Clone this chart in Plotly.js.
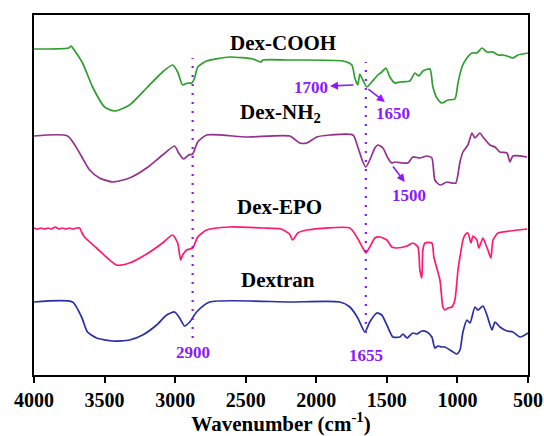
<!DOCTYPE html>
<html>
<head>
<meta charset="utf-8">
<script src="https://cdn.plot.ly/plotly-3.0.1.min.js"></script>
<style>html,body{margin:0;padding:0;background:#fff;}#chart{width:544px;height:436px;}</style>
</head>
<body>
<div id="chart"></div>
<script>
// Wavenumbers (cm-1) and offset transmittance (a.u.)
const cooh_x = [4000,3755,3736,3720,3656,3585,3500,3429,3323,3202,3089,3018,2982,2947,2911,2883,2862,2840,2777,2614,2450,2390,2380,2188,1812,1748,1727,1706,1692,1670,1642,1607,1564,1536,1507,1479,1443,1408,1337,1301,1273,1245,1195,1174,1145,1110,1067,1018,996,968,933,897,862,826,791,748,713,677,628,607,571,500];
const cooh_y = [326,327,329,326,312,288,268,264,270,287,303,310,303,290,292,292,297,308,314,318,316,313,315,315,314,310,297,290,301,295,288,293,300,303,307,298,292,293,294,302,299,304,306,288,277,272,275,276,292,308,317,322,322,327,323,323,320,320,318,317,320,322];

const nh2_x = [4000,3762,3677,3606,3536,3443,3323,3202,3089,3004,2975,2940,2904,2876,2840,2777,2493,2188,2117,2067,1996,1904,1740,1706,1670,1649,1621,1585,1564,1528,1493,1465,1443,1386,1351,1316,1266,1216,1181,1160,1124,1075,1039,1011,982,961,926,897,876,841,819,770,734,699,649,628,607,507];
const nh2_y = [239,239,222,205,197,193,197,207,220,229,222,216,220,221,233,240,238,239,232,232,238,240,240,228,213,208,215,227,230,227,217,212,213,212,212,218,217,219,217,195,190,193,192,192,213,223,230,242,237,242,238,230,228,223,222,213,219,218];

const epo_x = [4000,3975,3950,3925,3900,3875,3850,3825,3800,3775,3750,3725,3700,3677,3660,3642,3557,3415,3323,3202,3089,3018,2982,2961,2947,2918,2876,2840,2777,2614,2380,2250,2190,2167,2131,2067,1762,1713,1670,1649,1621,1585,1550,1500,1465,1429,1358,1316,1280,1266,1252,1245,1230,1181,1167,1124,1103,1089,1067,1039,1018,996,982,961,947,926,904,890,862,848,819,798,784,763,748,713,628,507];
const epo_y = [147,146,147,146,147,146,148,146,147,146,147,146,147,147,142,138,127,110,112,121,132,140,132,115,120,125,127,138,145,148,147,146,141,135,142,145,147,138,127,122,128,137,138,135,128,127,129,132,128,105,97,125,132,132,118,95,68,65,67,68,75,105,118,135,140,142,132,139,135,127,137,130,125,117,135,142,144,146];

const dex_x = [4000,3727,3663,3621,3557,3443,3323,3230,3131,3060,3004,2968,2933,2897,2848,2755,2188,1833,1762,1706,1656,1621,1571,1536,1500,1457,1408,1386,1358,1316,1287,1252,1216,1181,1160,1138,1110,1089,1053,1004,982,961,933,911,876,855,819,791,755,734,699,649,607,557,500];
const dex_y = [73,73,58,43,37,34,35,40,50,60,63,57,49,53,63,73,73,73,68,57,43,53,62,60,50,38,38,41,37,42,41,44,43,38,27,29,28,28,25,21,25,43,55,52,68,65,69,60,45,53,48,44,43,38,42];

const xTicks = [4000,3500,3000,2500,2000,1500,1000,500];
const markerLines = [2876, 1649];
const markerLabels = ['2900', '1655'];

const colors = {cooh:'#2E9E2E', nh2:'#93308F', epo:'#FF1A6E', dex:'#2B2FA6', mark:'#8B1AFF'};
const lw = 1.7;
function tr(x,y,c){return {x:x,y:y,type:'scatter',mode:'lines',line:{color:c,width:lw,shape:'spline',smoothing:0.6},hoverinfo:'skip',showlegend:false};}
const data = [tr(cooh_x,cooh_y,colors.cooh), tr(nh2_x,nh2_y,colors.nh2), tr(epo_x,epo_y,colors.epo), tr(dex_x,dex_y,colors.dex)];

const serif = "'Liberation Serif', 'Times New Roman', Times, serif";
const nameFont = {family:serif, size:21, color:'#000', weight:'bold'};
const markFont = {family:serif, size:17, color:colors.mark, weight:'bold'};

const annotations = [
  {x:2238,y:332,text:'<b>Dex-COOH</b>',font:nameFont},
  {x:2252,y:262,text:'<b>Dex-NH<sub>2</sub></b>',font:nameFont},
  {x:2259,y:168,text:'<b>Dex-EPO</b>',font:nameFont},
  {x:2273,y:95,text:'<b>Dextran</b>',font:nameFont},
  {x:2039,y:288,text:'<b>1700</b>',font:markFont},
  {x:1458,y:262,text:'<b>1650</b>',font:markFont},
  {x:1344,y:180,text:'<b>1500</b>',font:markFont},
  {x:markerLines[0],y:23,text:'<b>'+markerLabels[0]+'</b>',font:markFont},
  {x:markerLines[1],y:20,text:'<b>'+markerLabels[1]+'</b>',font:markFont},
].map(a=>Object.assign({xref:'x',yref:'y',showarrow:false,xanchor:'center',yanchor:'middle'},a));

const arrows = [
  {x:1903,y:289,ax:1727,ay:290},
  {x:1514,y:273,ax:1642,ay:287},
  {x:1373,y:193,ax:1465,ay:210},
].map(a=>Object.assign({xref:'x',yref:'y',axref:'x',ayref:'y',text:'',showarrow:true,arrowhead:2,arrowsize:1,arrowwidth:1.6,arrowcolor:colors.mark,standoff:0,startstandoff:0},a));

const shapes = [
  {type:'line',xref:'x',yref:'y',x0:markerLines[0],x1:markerLines[0],y0:37,y1:317,line:{color:colors.mark,width:2.2,dash:'2px,7px'}},
  {type:'line',xref:'x',yref:'y',x0:markerLines[1],x1:markerLines[1],y0:42,y1:313,line:{color:colors.mark,width:2.2,dash:'2px,7px'}},
];

const layout = {
  width:544,height:436,
  margin:{l:34,r:16,t:15,b:61,pad:0},
  paper_bgcolor:'#fff',plot_bgcolor:'#fff',
  font:{family:serif,color:'#000'},
  xaxis:{range:[4000,500],autorange:false,tickvals:xTicks,ticktext:xTicks.map(v=>'<b>'+v+'</b>'),ticks:'outside',ticklen:6,tickwidth:2,tickcolor:'#000',
    showline:true,mirror:true,linewidth:2,linecolor:'#000',showgrid:false,zeroline:false,
    tickfont:{family:serif,size:20,color:'#000'},
    title:{text:'<b>Wavenumber (cm<sup>-1</sup>)</b>',font:{family:serif,size:21,color:'#000'},standoff:6}},
  yaxis:{range:[0,360],autorange:false,showticklabels:false,ticks:'',showline:true,mirror:true,linewidth:2,linecolor:'#000',showgrid:false,zeroline:false},
  annotations:annotations.concat(arrows),
  shapes:shapes,
  showlegend:false
};
Plotly.newPlot('chart',data,layout,{displayModeBar:false,staticPlot:true});
</script>
</body>
</html>
